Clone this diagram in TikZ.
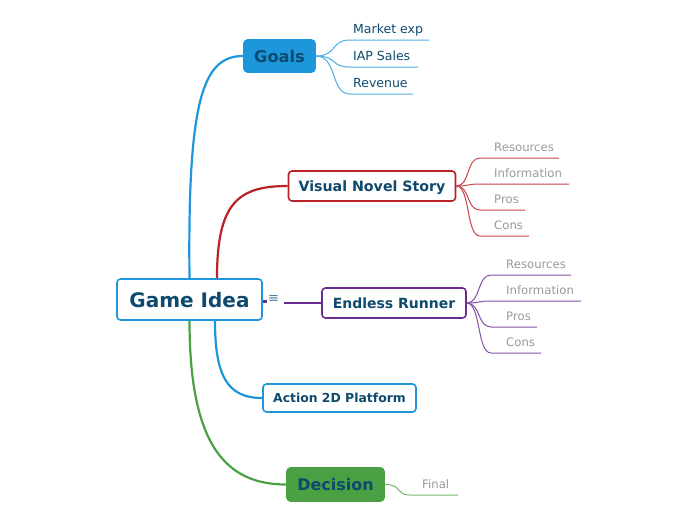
\documentclass[tikz,border=0pt]{standalone}
\usepackage{fontspec}
\setmainfont{DejaVu Sans}
\usetikzlibrary{calc}
\definecolor{cblue}{HTML}{1E96DC}
\definecolor{cdark}{HTML}{0D4A6E}
\definecolor{cred}{HTML}{BA2126}
\definecolor{cpurple}{HTML}{6B2C91}
\definecolor{cgreen}{HTML}{4BA043}
\definecolor{cgray}{HTML}{9A9A9A}
\definecolor{lblue}{HTML}{4FAEE8}
\definecolor{lred}{HTML}{C8444A}
\definecolor{lpurple}{HTML}{8550A8}
\definecolor{lgreen}{HTML}{74B96A}
\tikzset{
  topic/.style={rectangle, rounded corners=3.5pt, inner sep=0pt, align=center, font=\bfseries, text=cdark, line width=1.6pt, text depth=0pt},
  sublabel/.style={anchor=base west, inner sep=0pt, font=\fontsize{11.7}{13}\selectfont, text=cgray},
  glabel/.style={anchor=base west, inner sep=0pt, font=\fontsize{12.5}{14}\selectfont, text=cdark},
  main/.style={line width=2.2pt},
  subl/.style={line width=1pt},
}
\begin{document}
\begin{tikzpicture}[x=1pt,y=-1pt]
\useasboundingbox[fill=white] (0,0) rectangle (696,520);
% central
\node[topic, draw=cblue, fill=white, minimum width=145pt, minimum height=41pt, font=\bfseries\fontsize{20}{22}\selectfont] (root) at (189.5,299.5) {Game Idea};
% main topics
\node[topic, draw=cblue, fill=cblue, minimum width=71pt, minimum height=32pt, font=\bfseries\fontsize{16.2}{18}\selectfont] (goals) at (279.5,56) {Goals};
\node[topic, draw=cred, fill=white, minimum width=167pt, minimum height=30pt, font=\bfseries\fontsize{14.2}{16}\selectfont] (vns) at (372,186) {Visual Novel Story};
\node[topic, draw=cpurple, fill=white, minimum width=144pt, minimum height=30pt, font=\bfseries\fontsize{14}{16}\selectfont] (er) at (394,303) {Endless Runner};
\node[topic, draw=cblue, fill=white, minimum width=153pt, minimum height=28pt, font=\bfseries\fontsize{12.4}{14}\selectfont] (a2d) at (339.5,398) {Action 2D Platform};
\node[topic, draw=cgreen, fill=cgreen, minimum width=97pt, minimum height=33pt, font=\bfseries\fontsize{16}{18}\selectfont] (dec) at (335.5,484.5) {Decision};
% main connectors
\draw[main, cblue] (root.north) .. controls ($(root.north)+(-2,-180)$) and ($(goals.west)+(-40,0)$) .. (goals.west);
\draw[main, cred] ($(root.north)+(27.5,0)$) .. controls ($(root.north)+(27.5,-75)$) and ($(vns.west)+(-50,0)$) .. (vns.west);
\draw[main, cblue] ($(root.south)+(25.5,0)$) .. controls ($(root.south)+(25.5,55)$) and ($(a2d.west)+(-35,0)$) .. (a2d.west);
\draw[main, cgreen] (root.south) .. controls ($(root.south)+(0,125)$) and ($(dec.west)+(-60,0)$) .. (dec.west);
% collapse marker and purple line
\node[inner sep=0pt, font=\fontsize{13}{14}\selectfont, text=cdark!75] (mk) at (273.5,299) {≡};
\draw[main, cpurple] (root.east) ++(0,2) -- ++(4,0);
\coordinate (pstart) at (284,303);
\draw[main, cpurple] (pstart) -- (er.west);
% Goals subtopics
\foreach \name/\txt/\y/\xe in {g1/Market exp/40/429, g2/IAP Sales/67/418, g3/Revenue/94/413}{
  \coordinate (\name a) at (350,\y);
  \coordinate (\name b) at (\xe,\y);
  \draw[subl, lblue] (goals.east) .. controls ($(goals.east)+(22,0)$) and (330,\y) .. (\name a) -- (\name b);
  \node[glabel] (\name) at (353,\y-6.5) {\txt};
}
% VNS subtopics
\foreach \name/\txt/\y/\xe in {v1/Resources/158/559, v2/Information/184/569, v3/Pros/210/525, v4/Cons/236/529}{
  \coordinate (\name a) at (480,\y);
  \coordinate (\name b) at (\xe,\y);
  \draw[subl, lred] (vns.east) .. controls ($(vns.east)+(14,0)$) and (466,\y) .. (\name a) -- (\name b);
  \node[sublabel] (\name) at (494,\y-6.5) {\txt};
}
% ER subtopics
\foreach \name/\txt/\y/\xe in {e1/Resources/275/571, e2/Information/301/581, e3/Pros/327/537, e4/Cons/353/541}{
  \coordinate (\name a) at (491,\y);
  \coordinate (\name b) at (\xe,\y);
  \draw[subl, lpurple] (er.east) .. controls ($(er.east)+(14,0)$) and (477,\y) .. (\name a) -- (\name b);
  \node[sublabel] (\name) at (506,\y-6.5) {\txt};
}
% Decision subtopic
\coordinate (fa) at (410,495);
\coordinate (fb) at (458,495);
\draw[subl, lgreen] (dec.east) .. controls ($(dec.east)+(18,0)$) and (395,495) .. (fa) -- (fb);
\node[sublabel] (final) at (422,488.5) {Final};
\end{tikzpicture}
\end{document}
